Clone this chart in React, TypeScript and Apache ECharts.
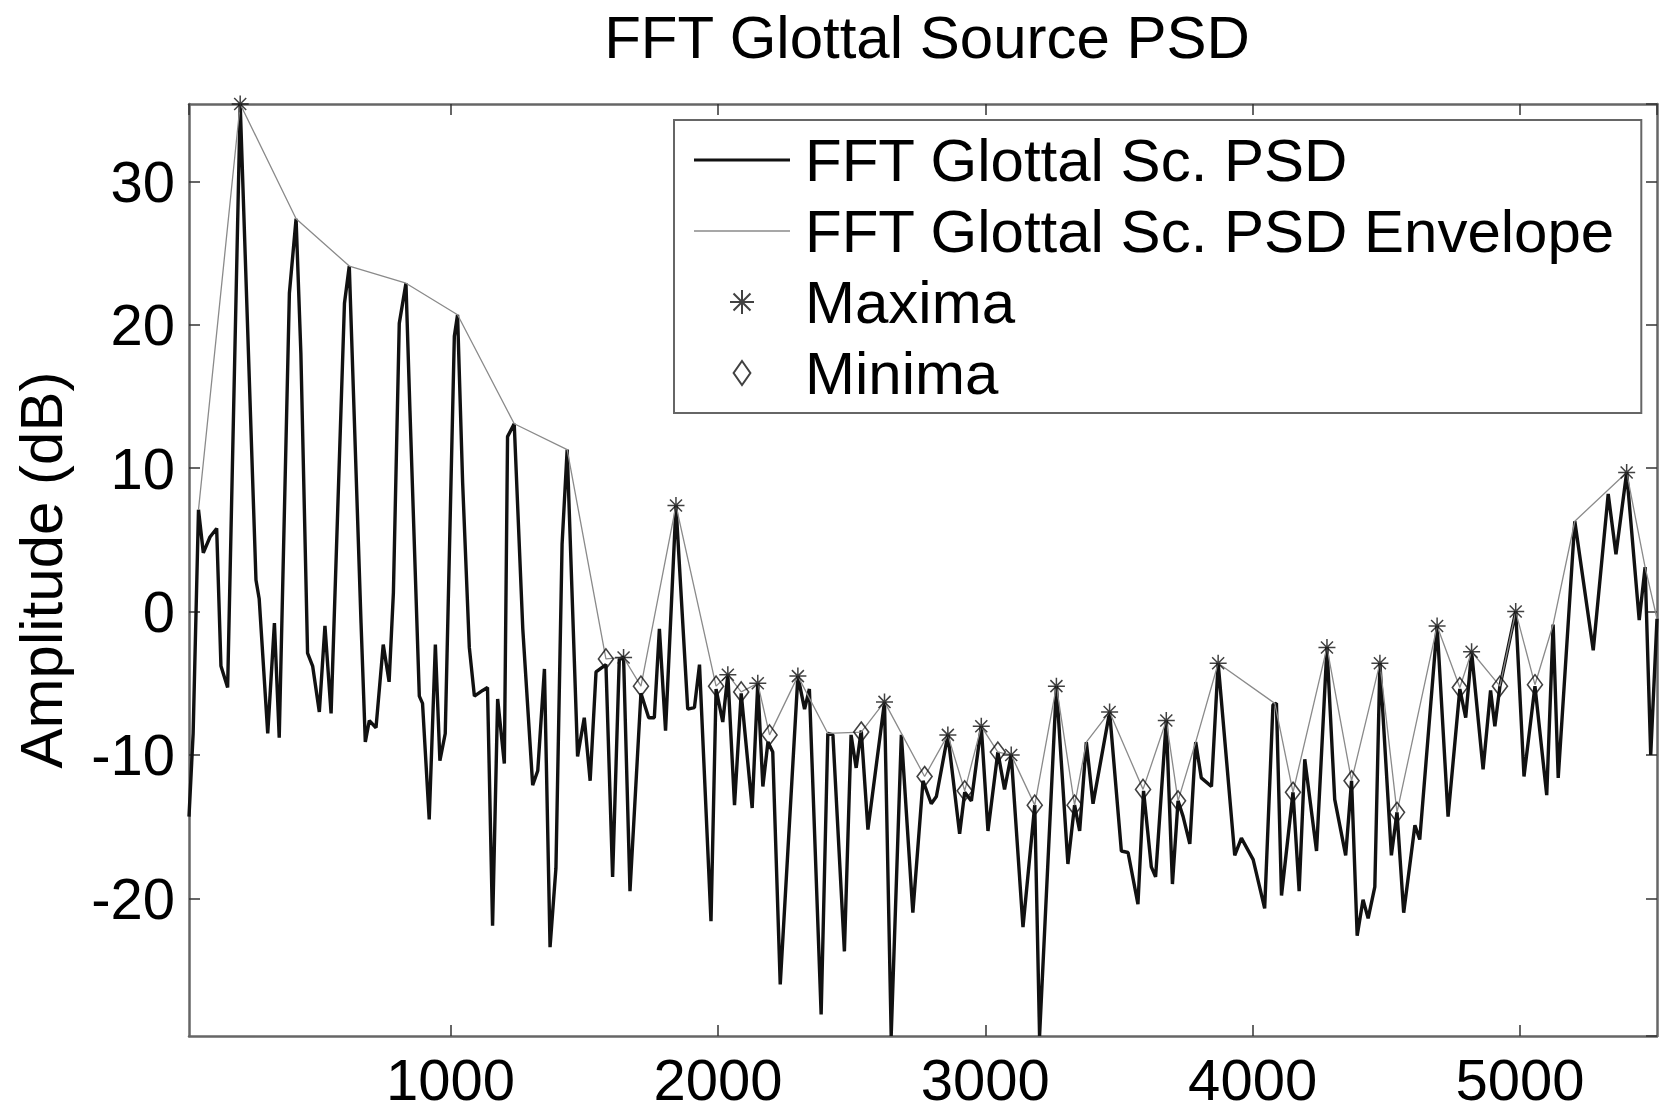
import React, { useEffect, useRef } from "react";
import * as echarts from "echarts";

// FFT glottal source PSD (Hz, dB)
const psdFreq = [
  21.5, 37, 57, 75, 100, 125, 141, 166, 213, 272, 284, 316, 341, 359, 397, 422, 440, 465, 484, 509,
  530, 553, 603, 621, 665, 681, 696, 721, 748, 770, 786, 808, 833, 848, 883, 895, 920, 943, 960, 980,
  1014, 1026, 1045, 1070, 1089, 1120, 1138, 1157, 1176, 1201, 1213, 1238, 1270, 1307, 1326, 1351, 1372, 1394, 1417, 1436,
  1475, 1500, 1522, 1544, 1581, 1606, 1631, 1647, 1671, 1712, 1741, 1762, 1781, 1804, 1843, 1887, 1912, 1931, 1974, 1993,
  2018, 2037, 2062, 2087, 2128, 2149, 2168, 2187, 2205, 2233, 2299, 2324, 2342, 2386, 2411, 2430, 2473, 2498, 2517, 2536,
  2561, 2623, 2648, 2686, 2729, 2767, 2798, 2817, 2860, 2904, 2923, 2948, 2985, 3010, 3047, 3072, 3097, 3141, 3185, 3203,
  3266, 3309, 3334, 3353, 3378, 3403, 3465, 3509, 3534, 3571, 3592, 3621, 3637, 3677, 3700, 3721, 3740, 3765, 3787, 3808,
  3846, 3871, 3933, 3958, 4002, 4045, 4076, 4089, 4108, 4151, 4174, 4195, 4239, 4278, 4307, 4348, 4370, 4391, 4413, 4432,
  4457, 4476, 4519, 4540, 4565, 4607, 4625, 4690, 4731, 4775, 4797, 4819, 4862, 4890, 4906, 4925, 4984, 5015, 5056, 5100,
  5124, 5143, 5205, 5274, 5330, 5359, 5399, 5446, 5468, 5489, 5512.5,
];
const psdDb = [
  -14.3, -8.5, 7.1, 4.1, 5.2, 5.8, -3.8, -5.3, 35.4, 2.2, 0.9, -8.5, -0.8, -8.8, 22.2, 27.4, 18, -2.9, -3.8, -7.0,
  -1.0, -7.1, 21.5, 24.1, -0.8, -9.1, -7.6, -8.1, -2.3, -4.9, 1.3, 20.1, 22.9, 14, -5.9, -6.4, -14.5, -2.3, -10.4, -8.5,
  19.2, 20.7, 9, -2.5, -5.9, -5.5, -5.3, -21.9, -6.1, -10.6, 12.2, 13.1, -1.2, -12.1, -11.1, -4.0, -23.4, -17.9, 4.7, 11.3,
  -10.1, -7.4, -11.8, -4.2, -3.7, -18.5, -3.3, -3.2, -19.5, -5.7, -7.4, -7.4, -1.2, -8.3, 7.4, -6.8, -6.7, -3.7, -21.6, -5.4,
  -7.7, -4.4, -13.5, -5.7, -13.7, -5.0, -12.2, -9.1, -9.8, -26.0, -4.5, -6.8, -5.4, -28.1, -8.5, -8.6, -23.7, -8.6, -10.9, -8.3,
  -15.2, -6.3, -29.6, -8.6, -21.0, -11.8, -13.4, -12.9, -8.6, -15.5, -12.6, -13.2, -8.0, -15.3, -9.8, -12.4, -10.0, -22.0, -13.5, -29.6,
  -5.2, -17.6, -13.5, -15.3, -9.1, -13.4, -7.0, -16.7, -16.8, -20.4, -12.5, -17.8, -18.5, -7.6, -19.0, -13.2, -14.3, -16.2, -9.1, -11.6,
  -12.2, -3.6, -17.0, -15.8, -17.3, -20.7, -6.5, -6.4, -19.8, -12.6, -19.5, -10.3, -16.7, -2.5, -13.1, -17.0, -11.8, -22.6, -20.1, -21.4,
  -19.2, -3.6, -17.0, -14.0, -21.0, -14.9, -15.9, -1.0, -14.3, -5.4, -7.4, -2.8, -11.0, -5.5, -8.0, -5.2, 0.0, -11.5, -5.2, -12.8,
  -0.9, -11.6, 6.3, -2.7, 8.2, 4.0, 9.7, -0.6, 3.1, -10.0, -0.5,
];

// Envelope
const envFreq = [
  57, 213, 422, 621, 833, 1026, 1238, 1436, 1581, 1647, 1712, 1843, 1993, 2037, 2087, 2149, 2193, 2299, 2411, 2536,
  2623, 2773, 2860, 2923, 2985, 3047, 3097, 3185, 3266, 3334, 3378, 3465, 3590, 3677, 3721, 3787, 3871, 4083, 4151, 4278,
  4370, 4476, 4540, 4690, 4775, 4819, 4925, 4984, 5056, 5124, 5205, 5399, 5468, 5512.5,
];
const envDb = [
  7.1, 35.4, 27.4, 24.1, 22.9, 20.7, 13.1, 11.3, -3.3, -3.2, -5.2, 7.4, -5.2, -4.4, -5.6, -5.0, -8.6, -4.5, -8.5, -8.4,
  -6.3, -11.5, -8.6, -12.5, -8.0, -9.8, -10.0, -13.5, -5.2, -13.5, -9.1, -7.0, -12.4, -7.6, -13.2, -9.1, -3.6, -6.4, -12.6, -2.5,
  -11.8, -3.6, -14.0, -1.0, -5.3, -2.8, -5.2, 0.0, -5.1, -0.9, 6.3, 9.7, 3.1, -0.5,
];

// Maxima
const maxFreq = [213, 1647, 1843, 2037, 2149, 2299, 2623, 2860, 2985, 3097, 3266, 3465, 3677, 3871, 4278, 4476, 4690, 4819, 4984, 5399];
const maxDb = [35.4, -3.2, 7.4, -4.4, -5.0, -4.5, -6.3, -8.6, -8.0, -10.0, -5.2, -7.0, -7.6, -3.6, -2.5, -3.6, -1.0, -2.8, 0.0, 9.7];

// Minima
const minFreq = [1581, 1712, 1993, 2087, 2193, 2536, 2773, 2923, 3047, 3185, 3334, 3590, 3721, 4151, 4370, 4540, 4775, 4925, 5056];
const minDb = [-3.3, -5.2, -5.2, -5.6, -8.6, -8.4, -11.5, -12.5, -9.8, -13.5, -13.5, -12.4, -13.2, -12.6, -11.8, -14.0, -5.3, -5.2, -5.1];

const xMin = 21.5;
const xMax = 5512.5;
const yMin = -29.6;
const yMax = 35.4;

const zip = (xs: number[], ys: number[]) => xs.map((x, i) => [x, ys[i]]);

export default function App() {
  const ref = useRef<HTMLDivElement>(null);
  useEffect(() => {
    if (!ref.current) return;
    const chart = echarts.init(ref.current, null, { renderer: "svg" });
    const font = "Liberation Sans, Arial, Helvetica, sans-serif";
    const starPath =
      "path://M0,-10L0,10M-10,0L10,0M-7.07,-7.07L7.07,7.07M-7.07,7.07L7.07,-7.07";
    const diamondPath = "path://M0,-10L7,0L0,10L-7,0Z";
    const frameLine = { show: true, onZero: false, lineStyle: { color: "#666", width: 2.5 } };
    const tick = { show: true, inside: true, length: 11, lineStyle: { color: "#333", width: 1.5 } };
    chart.setOption({
      animation: false,
      backgroundColor: "#fff",
      title: {
        text: "FFT Glottal Source PSD",
        left: 922,
        top: 2,
        textAlign: "center",
        textStyle: { fontFamily: font, fontSize: 60, fontWeight: "normal", color: "#000" },
      },
      grid: { left: 189, right: 5, top: 104, bottom: 78, show: false },
      legend: {
        orient: "vertical",
        left: 674,
        top: 120,
        padding: [10, 26, 10, 20],
        itemWidth: 96,
        itemHeight: 24,
        itemGap: 11,
        backgroundColor: "#fff",
        borderColor: "#666",
        borderWidth: 2,
        selectedMode: false,
        symbolKeepAspect: true,
        textStyle: { fontSize: 60, lineHeight: 60, fontFamily: font, color: "#000", padding: [0, 0, 0, 10] },
        data: [
          { name: "FFT Glottal Sc. PSD", icon: "path://M0,0L96,0L96,3.2L0,3.2Z" },
          { name: "FFT Glottal Sc. PSD Envelope", icon: "path://M0,0L96,0L96,1.3L0,1.3Z" },
          { name: "Maxima", icon: starPath },
          { name: "Minima", icon: diamondPath },
        ],
      },
      xAxis: [
        {
          type: "value",
          min: xMin,
          max: xMax,
          splitNumber: 5,
          axisLine: frameLine,
          axisTick: tick,
          splitLine: { show: false },
          axisLabel: {
            fontFamily: font,
            fontSize: 58,
            color: "#000",
            margin: 14,
            showMinLabel: false,
            showMaxLabel: false,
            formatter: (v: number) => String(v),
          },
        },
        {
          type: "value",
          position: "top",
          min: xMin,
          max: xMax,
          splitNumber: 5,
          axisLine: frameLine,
          axisTick: tick,
          splitLine: { show: false },
          axisLabel: { show: false },
        },
      ],
      yAxis: [
        {
          type: "value",
          min: yMin,
          max: yMax,
          splitNumber: 6,
          axisLine: frameLine,
          axisTick: tick,
          splitLine: { show: false },
          name: "Amplitude (dB)",
          nameLocation: "middle",
          nameGap: 118,
          nameTextStyle: { fontFamily: font, fontSize: 60, color: "#000" },
          axisLabel: {
            fontFamily: font,
            fontSize: 58,
            color: "#000",
            margin: 14,
            showMinLabel: false,
            showMaxLabel: false,
          },
        },
        {
          type: "value",
          position: "right",
          min: yMin,
          max: yMax,
          splitNumber: 6,
          axisLine: frameLine,
          axisTick: tick,
          splitLine: { show: false },
          axisLabel: { show: false },
        },
      ],
      series: [
        {
          name: "FFT Glottal Sc. PSD",
          type: "line",
          data: zip(psdFreq, psdDb),
          symbol: "none",
          lineStyle: { color: "#111", width: 3.4 },
          itemStyle: { color: "#111" },
          z: 2,
        },
        {
          name: "FFT Glottal Sc. PSD Envelope",
          type: "line",
          data: zip(envFreq, envDb),
          symbol: "none",
          lineStyle: { color: "#8a8a8a", width: 1.3 },
          itemStyle: { color: "#8a8a8a" },
          z: 3,
        },
        {
          name: "Maxima",
          type: "scatter",
          data: zip(maxFreq, maxDb),
          symbol: starPath,
          symbolSize: 17,
          itemStyle: { color: "rgba(0,0,0,0)", borderColor: "#111", borderWidth: 1.5 },
          z: 4,
        },
        {
          name: "Minima",
          type: "scatter",
          data: zip(minFreq, minDb),
          symbol: diamondPath,
          symbolSize: [15, 20],
          itemStyle: { color: "rgba(0,0,0,0)", borderColor: "#111", borderWidth: 1.6 },
          z: 4,
        },
      ],
    });
    return () => chart.dispose();
  }, []);
  return (
    <div
      ref={ref}
      style={{ position: "fixed", left: 0, top: 0, width: 1662, height: 1114, background: "#fff" }}
    />
  );
}
